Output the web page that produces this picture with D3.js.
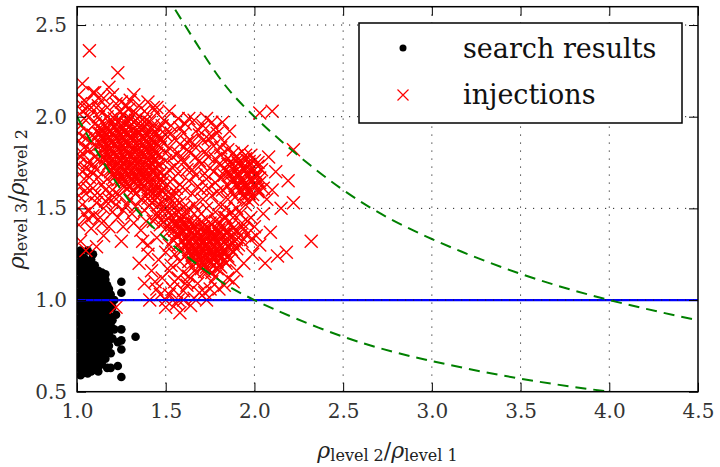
<!DOCTYPE html>
<html>
<head>
<meta charset="utf-8">
<script src="https://cdn.jsdelivr.net/npm/d3@7"></script>
<style>body{margin:0;background:#fff;}</style>
</head>
<body>
<svg id="chart"></svg>
<script>
// values
var searchResults = [
  [1.01,1.25],[1.04,1.23],
  [1.02,1.21],[1.05,1.20],[1.08,1.22],
  [1.01,1.18],[1.04,1.17],[1.07,1.18],[1.10,1.19],
  [1.02,1.15],[1.05,1.14],[1.08,1.15],[1.11,1.14],[1.14,1.15],
  [1.01,1.11],[1.04,1.12],[1.07,1.11],[1.10,1.11],[1.13,1.12],[1.16,1.11],
  [1.02,1.08],[1.05,1.07],[1.08,1.08],[1.11,1.08],[1.14,1.07],[1.17,1.08],
  [1.01,1.04],[1.04,1.05],[1.07,1.04],[1.10,1.04],[1.13,1.05],[1.16,1.04],[1.19,1.03],
  [1.02,1.01],[1.05,1.00],[1.08,1.01],[1.11,1.01],[1.14,1.00],[1.17,1.01],[1.19,0.99],
  [1.01,0.97],[1.04,0.98],[1.07,0.97],[1.10,0.97],[1.13,0.98],[1.16,0.97],[1.20,0.96],
  [1.02,0.94],[1.05,0.93],[1.08,0.94],[1.11,0.94],[1.14,0.93],[1.17,0.94],
  [1.01,0.90],[1.04,0.91],[1.07,0.90],[1.10,0.90],[1.13,0.91],[1.16,0.90],[1.20,0.89],
  [1.02,0.87],[1.05,0.86],[1.08,0.87],[1.11,0.87],[1.14,0.86],[1.17,0.87],[1.19,0.86],
  [1.01,0.83],[1.04,0.84],[1.07,0.83],[1.10,0.83],[1.13,0.84],[1.16,0.83],[1.21,0.84],
  [1.02,0.80],[1.05,0.79],[1.08,0.80],[1.11,0.80],[1.14,0.79],[1.17,0.80],[1.20,0.79],
  [1.01,0.76],[1.04,0.77],[1.07,0.76],[1.10,0.76],[1.13,0.77],[1.16,0.76],[1.18,0.75],
  [1.02,0.73],[1.05,0.72],[1.08,0.73],[1.11,0.73],[1.14,0.72],[1.19,0.71],
  [1.01,0.69],[1.04,0.70],[1.07,0.69],[1.10,0.69],[1.13,0.70],[1.16,0.68],
  [1.02,0.66],[1.05,0.65],[1.08,0.66],[1.11,0.66],[1.14,0.65],
  [1.01,0.63],[1.04,0.62],[1.07,0.63],[1.10,0.62],
  [1.02,0.59],[1.06,0.60],
  [1.03,1.195],[1.06,1.185],[1.03,1.16],[1.06,1.16],[1.09,1.165],[1.12,1.16],
  [1.03,1.13],[1.06,1.125],[1.09,1.13],[1.12,1.125],[1.15,1.13],
  [1.03,1.095],[1.06,1.09],[1.09,1.095],[1.12,1.095],[1.15,1.09],
  [1.03,1.06],[1.06,1.06],[1.09,1.06],[1.12,1.06],[1.15,1.055],[1.18,1.06],
  [1.03,1.025],[1.06,1.02],[1.09,1.025],[1.12,1.025],[1.15,1.02],[1.18,1.02],
  [1.03,0.99],[1.06,0.99],[1.09,0.99],[1.12,0.99],[1.15,0.985],[1.18,0.98],
  [1.03,0.955],[1.06,0.955],[1.09,0.955],[1.12,0.955],[1.15,0.955],[1.18,0.955],
  [1.03,0.92],[1.06,0.92],[1.09,0.92],[1.12,0.92],[1.15,0.92],[1.18,0.915],
  [1.03,0.885],[1.06,0.885],[1.09,0.885],[1.12,0.885],[1.15,0.885],[1.18,0.88],
  [1.03,0.85],[1.06,0.85],[1.09,0.85],[1.12,0.85],[1.15,0.85],[1.18,0.85],
  [1.03,0.815],[1.06,0.815],[1.09,0.815],[1.12,0.815],[1.15,0.815],[1.18,0.815],
  [1.03,0.78],[1.06,0.78],[1.09,0.78],[1.12,0.78],[1.15,0.78],[1.18,0.78],
  [1.03,0.745],[1.06,0.745],[1.09,0.745],[1.12,0.745],[1.15,0.745],[1.17,0.735],
  [1.03,0.71],[1.06,0.71],[1.09,0.71],[1.12,0.71],[1.15,0.71],
  [1.03,0.675],[1.06,0.675],[1.09,0.675],[1.12,0.675],
  [1.03,0.64],[1.06,0.64],[1.09,0.64],[1.12,0.635],[1.04,0.61],[1.08,0.61],
  [1.02,1.27],[1.06,1.27],[1.16,1.14],[1.25,1.10],[1.25,1.04],[1.33,0.80],[1.25,0.84],
  [1.25,0.73],[1.23,0.64],[1.25,0.58],[1.17,0.63],[1.12,0.61],[1.03,0.60],[1.23,0.77],
  [1.22,0.92],[1.21,1.00],[1.09,1.25],[1.19,0.63],[1.25,0.78]
];

var injections = [
  // upper-left blob
  [1.24,2.03],[1.29,2.04],[1.33,2.02],
  [1.17,2.00],[1.21,1.99],[1.26,2.01],[1.30,1.99],[1.35,2.00],[1.39,1.98],
  [1.14,1.97],[1.19,1.96],[1.23,1.97],[1.28,1.96],[1.32,1.97],[1.36,1.95],[1.41,1.97],
  [1.13,1.94],[1.17,1.93],[1.21,1.94],[1.25,1.93],[1.29,1.94],[1.33,1.92],[1.37,1.94],[1.42,1.93],[1.46,1.94],
  [1.12,1.91],[1.16,1.90],[1.20,1.91],[1.24,1.90],[1.28,1.91],[1.31,1.89],[1.35,1.91],[1.39,1.90],[1.44,1.90],
  [1.14,1.88],[1.18,1.87],[1.22,1.88],[1.26,1.87],[1.30,1.88],[1.34,1.86],[1.38,1.88],[1.42,1.87],[1.47,1.88],
  [1.13,1.85],[1.17,1.84],[1.21,1.85],[1.25,1.84],[1.29,1.85],[1.33,1.83],[1.37,1.85],[1.41,1.84],[1.45,1.85],
  [1.15,1.82],[1.19,1.81],[1.23,1.82],[1.27,1.81],[1.31,1.82],[1.35,1.80],[1.39,1.82],[1.43,1.81],
  [1.14,1.79],[1.18,1.78],[1.22,1.79],[1.26,1.78],[1.30,1.79],[1.34,1.77],[1.38,1.79],[1.42,1.78],[1.46,1.79],
  [1.16,1.76],[1.20,1.75],[1.24,1.76],[1.28,1.75],[1.32,1.76],[1.36,1.74],[1.40,1.76],[1.44,1.75],
  [1.17,1.73],[1.21,1.72],[1.25,1.73],[1.29,1.72],[1.33,1.73],[1.37,1.71],[1.41,1.73],[1.45,1.72],
  [1.19,1.70],[1.23,1.69],[1.27,1.70],[1.31,1.69],[1.35,1.70],[1.39,1.68],[1.43,1.70],[1.47,1.69],
  [1.21,1.67],[1.25,1.66],[1.29,1.67],[1.33,1.66],[1.37,1.67],[1.41,1.65],[1.45,1.67],
  [1.24,1.64],[1.28,1.63],[1.32,1.64],[1.36,1.63],[1.40,1.64],[1.44,1.62],[1.48,1.64],
  [1.28,1.61],[1.32,1.60],[1.36,1.61],[1.40,1.60],[1.44,1.59],[1.49,1.61],
  [1.26,2.015],[1.31,2.02],
  [1.19,1.985],[1.24,1.98],[1.28,1.985],[1.33,1.98],[1.37,1.985],
  [1.16,1.955],[1.21,1.95],[1.25,1.955],[1.30,1.95],[1.34,1.955],[1.38,1.95],[1.43,1.955],
  [1.15,1.925],[1.19,1.92],[1.23,1.925],[1.27,1.92],[1.31,1.925],[1.35,1.92],[1.40,1.925],[1.44,1.92],
  [1.14,1.895],[1.18,1.89],[1.22,1.895],[1.26,1.89],[1.30,1.895],[1.33,1.89],[1.37,1.895],[1.41,1.89],[1.46,1.895],
  [1.16,1.865],[1.20,1.86],[1.24,1.865],[1.28,1.86],[1.32,1.865],[1.36,1.86],[1.40,1.865],[1.44,1.86],
  [1.15,1.835],[1.19,1.83],[1.23,1.835],[1.27,1.83],[1.31,1.835],[1.35,1.83],[1.39,1.835],[1.43,1.83],[1.47,1.835],
  [1.17,1.805],[1.21,1.80],[1.25,1.805],[1.29,1.80],[1.33,1.805],[1.37,1.80],[1.41,1.805],[1.45,1.80],
  [1.16,1.775],[1.20,1.77],[1.24,1.775],[1.28,1.77],[1.32,1.775],[1.36,1.77],[1.40,1.775],[1.44,1.77],
  [1.18,1.745],[1.22,1.74],[1.26,1.745],[1.30,1.74],[1.34,1.745],[1.38,1.74],[1.42,1.745],[1.46,1.74],
  [1.19,1.715],[1.23,1.71],[1.27,1.715],[1.31,1.71],[1.35,1.715],[1.39,1.71],[1.43,1.715],
  [1.21,1.685],[1.25,1.68],[1.29,1.685],[1.33,1.68],[1.37,1.685],[1.41,1.68],[1.45,1.685],
  [1.23,1.655],[1.27,1.65],[1.31,1.655],[1.35,1.65],[1.39,1.655],[1.43,1.65],[1.47,1.655],
  [1.26,1.625],[1.30,1.62],[1.34,1.625],[1.38,1.62],[1.42,1.625],[1.46,1.62],
  // diagonal band
  [1.40,1.58],[1.44,1.57],[1.48,1.59],[1.52,1.56],[1.42,1.53],[1.46,1.52],[1.50,1.50],
  [1.54,1.52],[1.38,1.49],[1.45,1.47],[1.49,1.45],[1.53,1.46],[1.57,1.48],[1.47,1.41],
  [1.51,1.40],[1.55,1.42],[1.59,1.44],[1.43,1.43],[1.62,1.47],[1.58,1.53],[1.56,1.58],
  [1.36,1.55],[1.33,1.58],
  [1.42,1.595],[1.46,1.585],[1.50,1.575],[1.54,1.57],[1.40,1.555],[1.44,1.545],[1.48,1.535],
  [1.52,1.525],[1.56,1.515],[1.60,1.505],[1.41,1.515],[1.47,1.495],[1.51,1.485],[1.55,1.475],
  [1.59,1.465],[1.45,1.455],[1.49,1.425],[1.53,1.43],[1.57,1.415],[1.61,1.42],[1.52,1.375],
  [1.56,1.36],[1.54,1.33],[1.57,1.30],[1.59,1.27],[1.61,1.24],[1.63,1.21],[1.65,1.18],[1.67,1.15],
  // lower blob
  [1.58,1.44],[1.63,1.43],[1.68,1.45],[1.73,1.44],[1.78,1.43],[1.84,1.45],
  [1.56,1.41],[1.61,1.40],[1.66,1.41],[1.71,1.40],[1.76,1.41],[1.81,1.40],[1.87,1.41],
  [1.55,1.38],[1.60,1.37],[1.64,1.38],[1.68,1.37],[1.72,1.38],[1.76,1.37],[1.80,1.38],[1.85,1.37],[1.90,1.38],
  [1.57,1.35],[1.62,1.34],[1.66,1.35],[1.70,1.34],[1.74,1.35],[1.78,1.34],[1.82,1.35],[1.87,1.34],[1.92,1.35],
  [1.59,1.32],[1.63,1.31],[1.67,1.32],[1.71,1.31],[1.75,1.32],[1.79,1.31],[1.83,1.32],[1.88,1.31],[1.93,1.32],
  [1.61,1.29],[1.65,1.28],[1.69,1.29],[1.73,1.28],[1.77,1.29],[1.81,1.28],[1.85,1.29],[1.90,1.28],
  [1.63,1.26],[1.67,1.25],[1.71,1.26],[1.75,1.25],[1.79,1.26],[1.83,1.25],[1.88,1.26],
  [1.65,1.23],[1.69,1.22],[1.73,1.23],[1.77,1.22],[1.81,1.23],[1.86,1.22],
  [1.67,1.20],[1.71,1.19],[1.75,1.20],[1.80,1.19],[1.84,1.20],
  [1.70,1.17],[1.74,1.16],[1.79,1.17],
  [1.69,1.33],[1.73,1.305],[1.77,1.345],[1.75,1.27],[1.71,1.235],[1.79,1.24],[1.67,1.28],
  [1.52,1.30],[1.55,1.25],[1.58,1.21],[1.53,1.19],[1.60,1.15],[1.62,1.10],[1.57,1.12],
  [1.60,1.425],[1.65,1.42],[1.70,1.425],[1.75,1.42],[1.80,1.425],
  [1.58,1.395],[1.62,1.39],[1.66,1.395],[1.70,1.39],[1.74,1.395],[1.78,1.39],[1.83,1.395],[1.88,1.39],
  [1.59,1.365],[1.64,1.36],[1.68,1.365],[1.72,1.36],[1.76,1.365],[1.80,1.36],[1.84,1.365],[1.89,1.36],
  [1.61,1.335],[1.65,1.33],[1.69,1.335],[1.73,1.33],[1.77,1.335],[1.81,1.33],[1.85,1.335],[1.90,1.33],
  [1.61,1.305],[1.65,1.30],[1.69,1.305],[1.73,1.30],[1.77,1.305],[1.81,1.30],[1.86,1.305],[1.91,1.30],
  [1.63,1.275],[1.67,1.27],[1.71,1.275],[1.75,1.27],[1.79,1.275],[1.83,1.27],[1.87,1.275],
  [1.65,1.245],[1.69,1.24],[1.73,1.245],[1.77,1.24],[1.81,1.245],[1.85,1.24],
  [1.67,1.215],[1.71,1.21],[1.75,1.215],[1.79,1.21],[1.83,1.215],
  [1.69,1.185],[1.73,1.18],[1.77,1.185],[1.81,1.18],
  [1.72,1.155],[1.76,1.15],
  // right-hand blob
  [1.88,1.80],[1.93,1.81],[1.98,1.79],
  [1.85,1.77],[1.90,1.76],[1.95,1.77],[2.00,1.76],
  [1.87,1.74],[1.92,1.73],[1.97,1.74],[2.02,1.73],
  [1.84,1.71],[1.89,1.70],[1.94,1.71],[1.99,1.70],[2.04,1.71],
  [1.86,1.68],[1.91,1.67],[1.96,1.68],[2.01,1.67],
  [1.88,1.65],[1.93,1.64],[1.98,1.65],[2.03,1.64],
  [1.90,1.62],[1.95,1.61],[2.00,1.62],[2.05,1.61],
  [1.92,1.59],[1.97,1.58],[2.02,1.59],
  [1.94,1.56],[1.99,1.55],
  [1.93,1.665],[1.955,1.625],[1.96,1.72],[1.91,1.745],
  [1.90,1.785],[1.95,1.79],[1.87,1.755],[1.92,1.755],[1.97,1.755],[2.02,1.75],[1.89,1.725],
  [1.94,1.725],[1.99,1.72],[1.86,1.695],[1.91,1.69],[1.96,1.695],[2.01,1.69],[1.88,1.665],
  [1.98,1.665],[2.03,1.665],[1.90,1.635],[1.95,1.64],[2.00,1.635],[1.92,1.605],[1.97,1.605],
  [2.02,1.605],[1.94,1.575],[1.99,1.575],[1.96,1.545],[1.85,1.74],[1.83,1.68],[1.85,1.62],
  [1.87,1.59],[1.89,1.56],
  // sparse middle
  [1.49,1.98],[1.53,1.95],[1.57,1.99],[1.61,1.96],[1.66,1.98],[1.71,1.95],[1.76,1.97],
  [1.50,1.90],[1.55,1.88],[1.60,1.91],[1.64,1.87],[1.69,1.90],[1.74,1.88],[1.79,1.91],[1.83,1.86],
  [1.52,1.83],[1.57,1.80],[1.62,1.82],[1.67,1.78],[1.72,1.81],[1.77,1.84],[1.81,1.79],
  [1.50,1.76],[1.55,1.73],[1.60,1.75],[1.65,1.71],[1.70,1.74],[1.75,1.72],[1.80,1.74],
  [1.49,1.68],[1.54,1.66],[1.58,1.63],[1.63,1.65],[1.68,1.62],[1.73,1.66],[1.78,1.64],
  [1.82,1.60],[1.76,1.57],[1.71,1.55],[1.66,1.52],[1.80,1.52],[1.85,1.55],[1.87,1.48],
  [1.83,1.45],[1.90,1.50],[1.95,1.52],[1.98,1.45],[1.93,1.42],[2.00,1.40],[1.96,1.36],
  [1.45,2.02],[1.52,2.03],[1.43,2.05],
  [1.48,1.95],[1.58,1.94],[1.63,1.99],[1.68,1.93],[1.73,1.99],[1.78,1.94],[1.82,1.97],
  [1.86,1.92],[1.48,1.86],[1.53,1.91],[1.58,1.85],[1.62,1.86],[1.66,1.84],[1.71,1.87],
  [1.76,1.89],[1.81,1.83],[1.85,1.82],[1.50,1.80],[1.54,1.78],[1.59,1.77],[1.64,1.80],
  [1.69,1.76],[1.74,1.78],[1.78,1.77],[1.52,1.71],[1.57,1.69],[1.62,1.71],[1.67,1.68],
  [1.72,1.69],[1.77,1.70],[1.81,1.67],[1.51,1.63],[1.56,1.61],[1.61,1.60],[1.65,1.58],
  [1.70,1.60],[1.74,1.61],[1.79,1.59],[1.68,1.49],[1.73,1.50],[1.78,1.48],[1.63,1.50],
  [1.84,1.50],[1.88,1.45],[1.92,1.47],[1.96,1.43],[1.94,1.39],[1.98,1.33],[2.01,1.35],
  // left edge and top
  [1.01,2.12],[1.05,2.08],[1.09,2.13],[1.12,2.06],[1.03,2.03],[1.07,2.00],[1.02,1.95],
  [1.06,1.92],[1.10,1.96],[1.01,1.87],[1.04,1.83],[1.08,1.86],[1.02,1.78],[1.06,1.75],
  [1.10,1.78],[1.03,1.70],[1.07,1.67],[1.11,1.71],[1.02,1.62],[1.05,1.58],[1.09,1.61],
  [1.13,1.57],[1.03,1.52],[1.07,1.49],[1.11,1.53],[1.06,1.44],[1.15,1.50],[1.18,1.55],
  [1.20,1.48],[1.11,1.29],[1.05,1.27],[1.18,1.40],[1.23,1.45],[1.28,1.52],[1.31,1.47],
  [1.26,1.40],[1.14,1.63],[1.17,1.66],[1.20,1.60],[1.24,1.57],[1.36,1.38],[1.39,1.43],
  [1.02,2.07],[1.04,1.99],[1.08,2.05],[1.12,2.00],[1.01,1.91],[1.05,1.88],[1.09,1.90],
  [1.03,1.80],[1.07,1.82],[1.11,1.84],[1.01,1.74],[1.05,1.72],[1.09,1.74],[1.13,1.76],
  [1.04,1.66],[1.08,1.70],[1.12,1.67],[1.01,1.57],[1.06,1.61],[1.10,1.57],[1.16,1.60],
  [1.04,1.47],[1.09,1.46],[1.13,1.45],[1.01,1.41],[1.08,1.39],[1.14,1.42],[1.22,1.52],
  [1.26,1.49],[1.30,1.55],[1.33,1.51],[1.21,1.56],[1.16,1.54],[1.02,1.32],[1.15,1.35],
  [1.25,1.32],[1.32,1.42],[1.12,2.10],[1.13,1.91],
  [1.07,2.36],[1.23,2.24],[1.03,2.18],[1.10,2.13],[1.18,2.16],[1.06,2.05],[1.15,2.10],
  [1.20,2.12],[1.25,2.08],[1.30,2.09],[1.35,2.06],[1.40,2.08],[1.17,2.05],
  [1.13,2.03],[1.22,2.07],[1.28,2.06],[1.32,2.12],[1.38,2.03],[1.45,2.05],
  // right scatter
  [2.03,2.02],[2.10,2.03],[2.22,1.82],[2.19,1.65],[2.22,1.53],[2.32,1.32],[2.18,1.26],
  [2.13,1.24],[2.09,1.37],[2.08,1.78],[2.12,1.70],[2.07,1.55],[2.05,1.47],[2.10,1.60],
  [2.15,1.50],[2.03,1.30],[1.99,1.25],[2.06,1.20],
  // bottom scatter
  [1.41,1.00],[1.50,0.96],[1.58,0.93],[1.45,1.06],[1.52,1.03],[1.60,1.05],[1.66,1.01],
  [1.72,1.04],[1.55,1.10],[1.63,1.13],[1.48,1.12],[1.38,1.09],[1.42,1.16],[1.35,1.20],
  [1.46,1.22],[1.50,1.26],[1.40,1.30],[1.45,1.34],[1.68,1.09],[1.76,1.10],[1.80,1.06],
  [1.85,1.12],[1.90,1.16],[1.94,1.20],[1.64,0.97],[1.22,0.96],[1.50,1.00],[1.60,1.00],[1.73,1.00],
  [1.44,1.10],[1.54,1.06],[1.57,1.00],[1.62,1.08],[1.69,1.04],[1.75,1.06],[1.83,1.08],
  [1.88,1.10],[1.47,1.03],[1.40,1.25],[1.37,1.32],[1.52,1.16],[1.56,0.98],[1.78,1.13]
];

var xTicks = [1.0, 1.5, 2.0, 2.5, 3.0, 3.5, 4.0, 4.5];
var yTicks = [0.5, 1.0, 1.5, 2.0, 2.5];
var equalRatio = 1.0;

// dashed guide curves (ratio product = 2 and = 4)
var lowCurveX  = [1.0, 1.25, 1.5, 1.75, 2.0, 2.5, 3.0, 3.5, 4.0, 4.5];
var lowCurveY  = [2.0, 1.6, 1.333, 1.143, 1.0, 0.8, 0.667, 0.571, 0.5, 0.444];
var highCurveX = [1.5, 1.75, 2.0, 2.5, 3.0, 3.5, 4.0, 4.5];
var highCurveY = [2.667, 2.286, 2.0, 1.6, 1.333, 1.143, 1.0, 0.889];

var legendLabels = ["search results", "injections"];

function drawChart(){
  var width = 720, height = 467;
  var margin = {top:6.7, right:22, bottom:75.3, left:77};

  var svg = d3.select("#chart")
              .attr("width", width)
              .attr("height", height)
              .style("font-family", "'DejaVu Serif', serif");

  var xScale = d3.scaleLinear()
                 .domain([1.0, 4.5])
                 .range([margin.left, width - margin.right]);
  var yScale = d3.scaleLinear()
                 .domain([0.5, 2.6])
                 .range([height - margin.bottom, margin.top]);

  svg.append("defs").append("clipPath")
     .attr("id", "plotClip")
     .append("rect")
     .attr("x", xScale(1.0)).attr("y", yScale(2.6))
     .attr("width", xScale(4.5) - xScale(1.0))
     .attr("height", yScale(0.5) - yScale(2.6));

  var plot = svg.append("g").attr("clip-path", "url(#plotClip)");

  // search results
  plot.selectAll("circle.search")
      .data(searchResults)
      .enter().append("circle")
      .attr("class", "search")
      .attr("cx", function(d){ return xScale(d[0]); })
      .attr("cy", function(d){ return yScale(d[1]); })
      .attr("r", 4.3)
      .attr("fill", "#000");

  // injections
  var xMark = "M-6.5,-6.5L6.5,6.5M-6.5,6.5L6.5,-6.5";
  plot.selectAll("path.inj")
      .data(injections)
      .enter().append("path")
      .attr("class", "inj")
      .attr("d", xMark)
      .attr("transform", function(d){ return "translate(" + xScale(d[0]) + "," + yScale(d[1]) + ")"; })
      .attr("stroke", "#ff0000")
      .attr("stroke-width", 1.4)
      .attr("fill", "none");

  // horizontal line at ratio 1
  plot.append("line")
      .attr("x1", xScale(1.0)).attr("x2", xScale(4.5))
      .attr("y1", yScale(equalRatio)).attr("y2", yScale(equalRatio))
      .attr("stroke", "#0000ff")
      .attr("stroke-width", 2.2);

  var lineMaker = d3.line()
                    .x(function(d){ return xScale(d[0]); })
                    .y(function(d){ return yScale(d[1]); })
                    .curve(d3.curveNatural);

  [[lowCurveX, lowCurveY], [highCurveX, highCurveY]].forEach(function(c){
    var pts = c[0].map(function(x, i){ return [x, c[1][i]]; });
    plot.append("path")
        .attr("d", lineMaker(pts))
        .attr("fill", "none")
        .attr("stroke", "#008000")
        .attr("stroke-width", 2)
        .attr("stroke-dasharray", "11,7");
  });

  // dotted grid on top of the data
  var grid = svg.append("g");
  grid.selectAll("line.gx")
      .data(xTicks.slice(1, -1))
      .enter().append("line")
      .attr("x1", function(d){ return xScale(d); })
      .attr("x2", function(d){ return xScale(d); })
      .attr("y1", yScale(0.5)).attr("y2", yScale(2.6))
      .attr("stroke", "#222").attr("stroke-width", 1)
      .attr("stroke-dasharray", "1.2,6.8");
  grid.selectAll("line.gy")
      .data(yTicks.slice(1))
      .enter().append("line")
      .attr("y1", function(d){ return yScale(d); })
      .attr("y2", function(d){ return yScale(d); })
      .attr("x1", xScale(1.0)).attr("x2", xScale(4.5))
      .attr("stroke", "#222").attr("stroke-width", 1)
      .attr("stroke-dasharray", "1.2,6.8");

  // axes with inward ticks on all four sides
  var fmt = d3.format(".1f");
  var bottomAxis = svg.append("g")
     .attr("transform", "translate(0," + yScale(0.5) + ")")
     .call(d3.axisBottom(xScale).tickValues(xTicks).tickFormat(fmt).tickSizeInner(-9).tickSizeOuter(0).tickPadding(12));
  var topAxis = svg.append("g")
     .attr("transform", "translate(0," + yScale(2.6) + ")")
     .call(d3.axisTop(xScale).tickValues(xTicks).tickFormat("").tickSizeInner(-9).tickSizeOuter(0));
  var leftAxis = svg.append("g")
     .attr("transform", "translate(" + xScale(1.0) + ",0)")
     .call(d3.axisLeft(yScale).tickValues(yTicks).tickFormat(fmt).tickSizeInner(-9).tickSizeOuter(0).tickPadding(10));
  var rightAxis = svg.append("g")
     .attr("transform", "translate(" + xScale(4.5) + ",0)")
     .call(d3.axisRight(yScale).tickValues(yTicks).tickFormat("").tickSizeInner(-9).tickSizeOuter(0));

  [bottomAxis, topAxis, leftAxis, rightAxis].forEach(function(a){
    a.select(".domain").remove();
    a.selectAll(".tick line").attr("stroke", "#000").attr("stroke-width", 1);
    a.selectAll(".tick text")
     .attr("fill", "#333")
     .style("font-family", "'DejaVu Serif', serif")
     .style("font-size", "20px");
  });

  svg.append("rect")
     .attr("x", xScale(1.0)).attr("y", yScale(2.6))
     .attr("width", xScale(4.5) - xScale(1.0))
     .attr("height", yScale(0.5) - yScale(2.6))
     .attr("fill", "none")
     .attr("stroke", "#000")
     .attr("stroke-width", 1.5);

  // axis labels
  function ratioLabel(sel, num, den){
    sel.append("tspan").text("\u03c1").style("font-style", "italic").style("font-size", "22px");
    sel.append("tspan").text("level " + num).style("font-size", "16px").attr("dy", 3);
    sel.append("tspan").text("/").style("font-size", "22px").attr("dy", -3);
    sel.append("tspan").text("\u03c1").style("font-style", "italic").style("font-size", "22px");
    sel.append("tspan").text("level " + den).style("font-size", "16px").attr("dy", 3);
  }
  var xLabel = svg.append("text")
     .attr("x", (xScale(1.0) + xScale(4.5)) / 2)
     .attr("y", 458)
     .attr("text-anchor", "middle")
     .attr("fill", "#222");
  ratioLabel(xLabel, 2, 1);

  var yLabel = svg.append("text")
     .attr("transform", "translate(24," + (yScale(0.5) + yScale(2.6)) / 2 + ") rotate(-90)")
     .attr("text-anchor", "middle")
     .attr("fill", "#222");
  ratioLabel(yLabel, 3, 2);

  // legend
  var legend = svg.append("g");
  legend.append("rect")
        .attr("x", 359).attr("y", 23)
        .attr("width", 323).attr("height", 100)
        .attr("fill", "#fff")
        .attr("stroke", "#000")
        .attr("stroke-width", 1.5);
  legend.append("circle")
        .attr("cx", 403).attr("cy", 48).attr("r", 3.5)
        .attr("fill", "#000");
  legend.append("path")
        .attr("d", "M-5.5,-5.5L5.5,5.5M-5.5,5.5L5.5,-5.5")
        .attr("transform", "translate(403,95)")
        .attr("stroke", "#ff0000").attr("stroke-width", 1.2).attr("fill", "none");
  legend.selectAll("text.leg")
        .data(legendLabels)
        .enter().append("text")
        .attr("class", "leg")
        .attr("x", 463)
        .attr("y", function(d, i){ return 58 + i * 46; })
        .attr("fill", "#111")
        .style("font-size", "27px")
        .text(function(d){ return d; });
}

drawChart();
</script>
</body>
</html>
